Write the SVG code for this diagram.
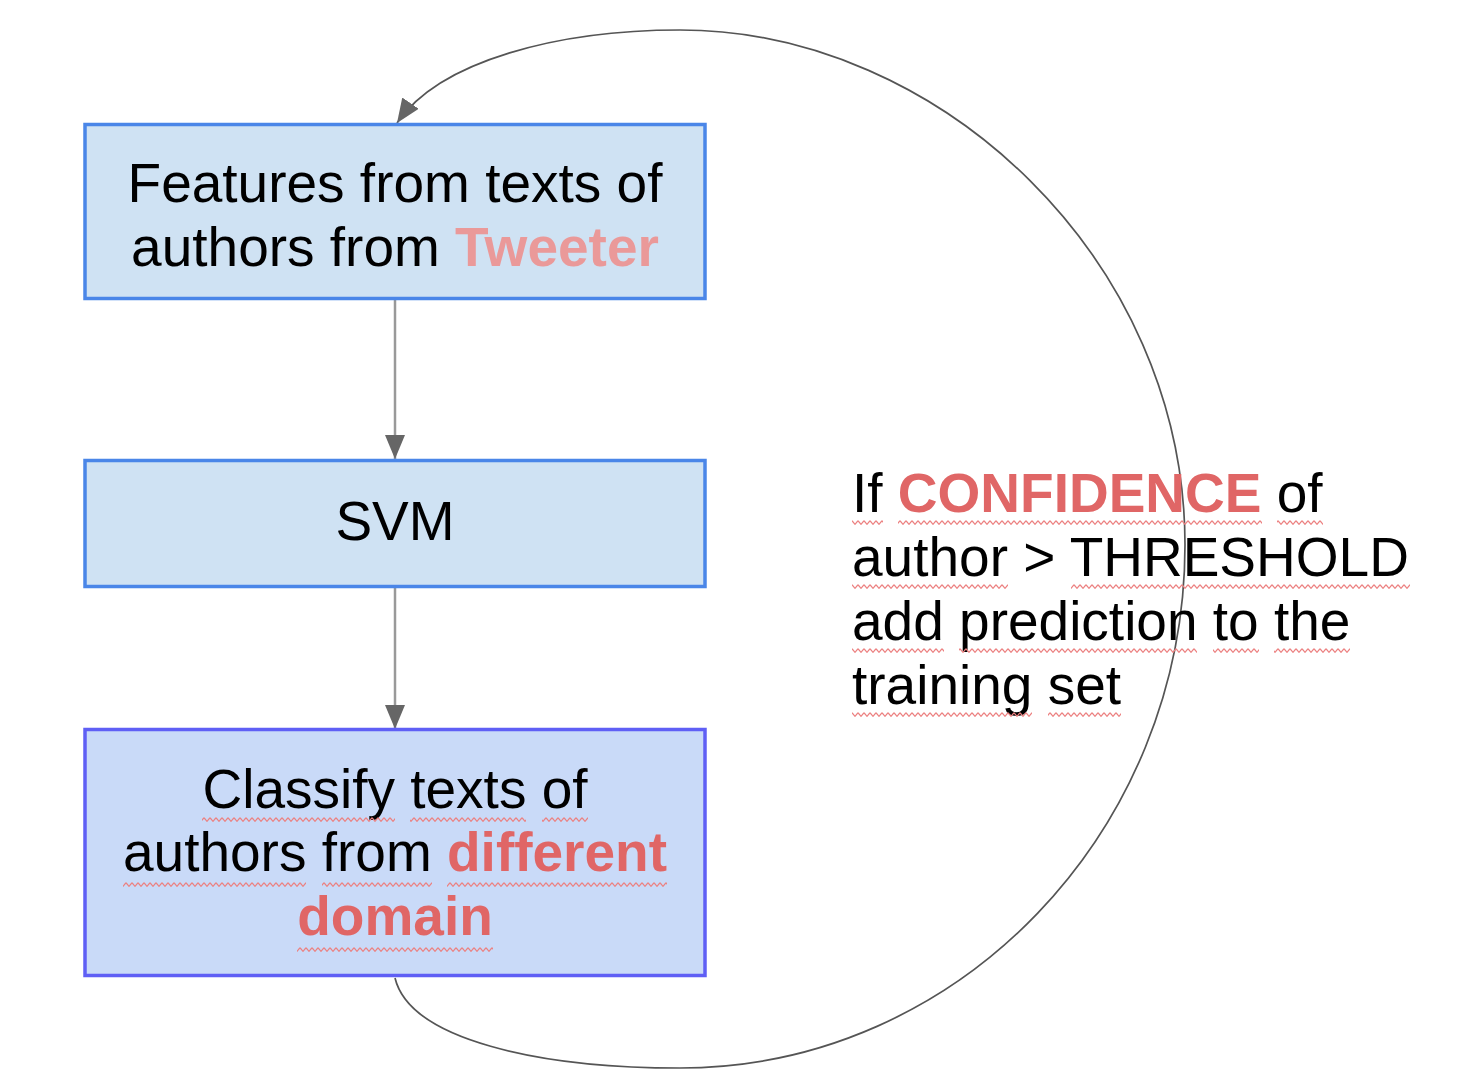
<svg xmlns="http://www.w3.org/2000/svg" width="1472" height="1070" viewBox="0 0 1472 1070">
<style>
.t{font-family:"Liberation Sans",Arial,sans-serif;font-size:55px;fill:#000}
.ctr{text-anchor:middle}
.pink{fill:#ea9999;font-weight:bold}
.red{fill:#e06666;font-weight:bold}
.box{fill:#cfe2f3;stroke:#4a86e8;stroke-width:3.5}
.box3{fill:#c9daf8;stroke:#5f5ff5;stroke-width:3.5}
.conn{fill:none;stroke:#999;stroke-width:2.5}
.loop{fill:none;stroke:#555;stroke-width:1.7}
.sq{fill:url(#sq)}
</style>
<defs>
<marker id="ah" viewBox="0 0 24 20" refX="24" refY="10" markerWidth="24" markerHeight="20" markerUnits="userSpaceOnUse" orient="auto">
<path d="M0,0 L24,10 L0,20 z" fill="#666"/>
</marker>
<pattern id="sq" width="6" height="5" patternUnits="userSpaceOnUse">
<path d="M0,0.7 L3,4.3 L6,0.7" fill="none" stroke="#ec8080" stroke-width="1.2"/>
</pattern>
</defs>
<rect width="1472" height="1070" fill="#fff"/>

<g id="connectors">
<line class="conn" x1="395" y1="300" x2="395" y2="459" marker-end="url(#ah)"/>
<line class="conn" x1="395" y1="588" x2="395" y2="729" marker-end="url(#ah)"/>
<path class="loop" d="M395,978 C410,1040 540,1068 680,1068 C960,1068 1185,830 1185,545 C1185,260 940,30 680,30 C560,30 440,60 397,123" marker-end="url(#ah)"/>
</g>

<g id="node-features">
<rect class="box" x="85" y="124.5" width="620" height="174"/>
<text class="t ctr" x="395" y="202">Features from texts of</text>
<text class="t ctr" x="395" y="266">authors from <tspan class="pink">Tweeter</tspan></text>
</g>

<g id="node-svm">
<rect class="box" x="85" y="460.5" width="620" height="126"/>
<text class="t ctr" x="395" y="540">SVM</text>
</g>

<g id="node-classify">
<rect class="box3" x="85" y="729.5" width="620" height="246"/>
<text class="t ctr" x="395" y="808">Classify texts of</text>
<text class="t ctr" x="395" y="871">authors from <tspan class="red">different</tspan></text>
<text class="t ctr red" x="395" y="935">domain</text>
<rect class="sq" x="202" y="0" width="193" height="5" transform="translate(0,817)"/>
<rect class="sq" x="410" y="0" width="116" height="5" transform="translate(0,817)"/>
<rect class="sq" x="542" y="0" width="46" height="5" transform="translate(0,817)"/>
<rect class="sq" x="123" y="0" width="183" height="5" transform="translate(0,882)"/>
<rect class="sq" x="322" y="0" width="110" height="5" transform="translate(0,882)"/>
<rect class="sq" x="447" y="0" width="220" height="5" transform="translate(0,882)"/>
<rect class="sq" x="297" y="0" width="196" height="5" transform="translate(0,947)"/>
</g>

<g id="label-condition">
<text class="t" x="852" y="512">If <tspan class="red">CONFIDENCE</tspan> of</text>
<text class="t" x="852" y="576">author &gt; THRESHOLD</text>
<text class="t" x="852" y="640">add prediction to the</text>
<text class="t" x="852" y="704">training set</text>
<rect class="sq" x="852" y="0" width="31" height="5" transform="translate(0,520)"/>
<rect class="sq" x="898" y="0" width="364" height="5" transform="translate(0,520)"/>
<rect class="sq" x="1277" y="0" width="46" height="5" transform="translate(0,520)"/>
<rect class="sq" x="852" y="0" width="156" height="5" transform="translate(0,584)"/>
<rect class="sq" x="1071" y="0" width="339" height="5" transform="translate(0,584)"/>
<rect class="sq" x="852" y="0" width="92" height="5" transform="translate(0,648)"/>
<rect class="sq" x="959" y="0" width="238" height="5" transform="translate(0,648)"/>
<rect class="sq" x="1213" y="0" width="46" height="5" transform="translate(0,648)"/>
<rect class="sq" x="1274" y="0" width="76" height="5" transform="translate(0,648)"/>
<rect class="sq" x="852" y="0" width="180" height="5" transform="translate(0,712)"/>
<rect class="sq" x="1048" y="0" width="73" height="5" transform="translate(0,712)"/>
</g>
</svg>
